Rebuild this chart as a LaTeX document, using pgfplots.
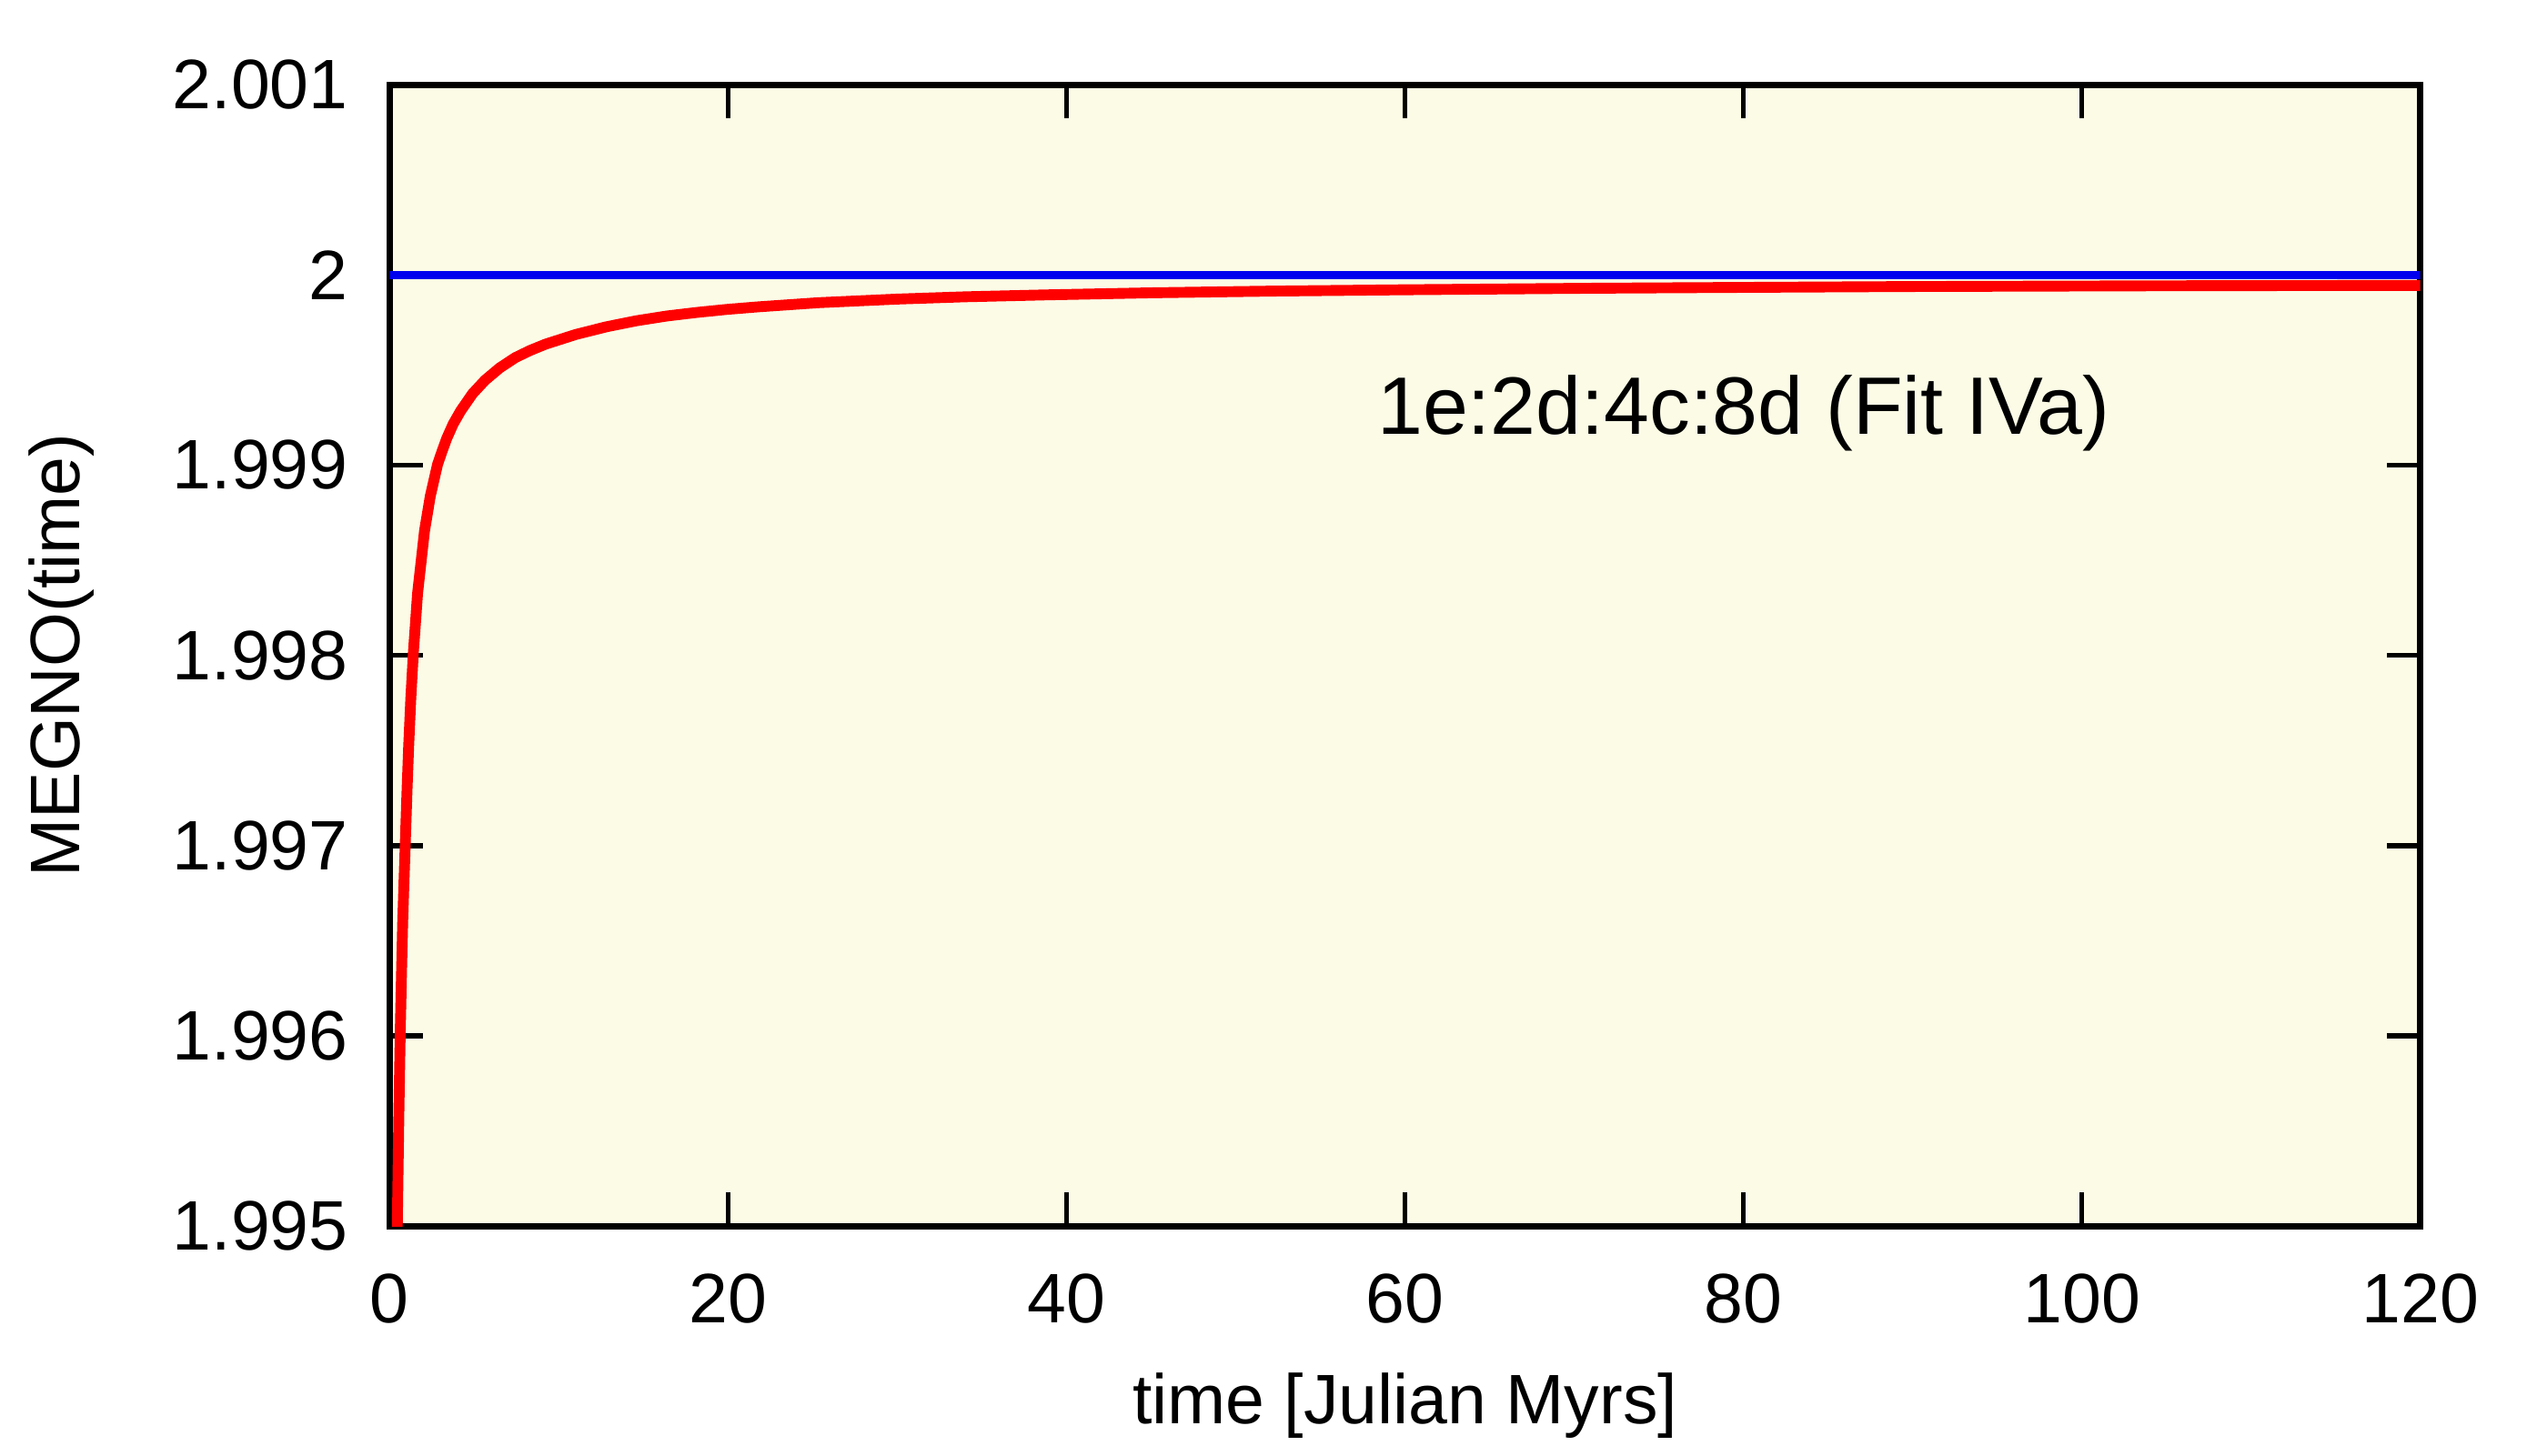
\documentclass[border=0pt]{standalone}
\usepackage{fontspec}
\setmainfont{Liberation Sans}
\usepackage{pgfplots}
\pgfplotsset{compat=1.18}
\definecolor{bgyellow}{RGB}{251,251,230}
\definecolor{megnored}{RGB}{255,0,0}
\definecolor{megnoblue}{RGB}{0,0,238}
\begin{document}
\begin{tikzpicture}
\path[use as bounding box] (-61.2pt,-36pt) rectangle (338.8pt,192.6pt);
\begin{axis}[
  scale only axis,
  width=318.9pt, height=179.3pt,
  xmin=0, xmax=120, ymin=1.995, ymax=2.001,
  xtick={0,20,...,120},
  ytick={1.995,1.996,1.997,1.998,1.999,2,2.001},
  yticklabels={1.995,1.996,1.997,1.998,1.999,2,2.001},
  tick align=inside,
  major tick length=5.3pt,
  tick style={line width=0.8pt, black},
  axis line style={line width=1pt},
  axis background/.style={fill=bgyellow},
  /pgf/number format/assume math mode=true,
  font=\fontsize{11}{13}\selectfont,
  yticklabel style={xshift=-3pt},
  xticklabel style={yshift=-4pt},
  xlabel={time [Julian Myrs]},
  ylabel={MEGNO(time)},
  xlabel style={at={(axis description cs:0.5,-0.157)}, anchor=center},
  ylabel style={at={(axis description cs:-0.1615,0.5)}, anchor=center},
]
\addplot[megnoblue, line width=1.25pt] coordinates {(0,2) (120,2)};
\addplot[megnored, line width=1.7pt, line cap=round, line join=round] coordinates {
(0.42,1.99480)
(0.45,1.99500)
(0.54,1.99557)
(0.62,1.99600)
(0.70,1.99633)
(0.77,1.99660)
(0.85,1.99682)
(0.93,1.997032)
(1.02,1.997275)
(1.12,1.997518)
(1.25,1.997776)
(1.40,1.998014)
(1.65,1.998327)
(2.06,1.998655)
(2.40,1.998837)
(2.83,1.999004)
(3.10,1.999074)
(3.37,1.99914)
(3.75,1.999216)
(4.20,1.999286)
(4.90,1.999376)
(5.63,1.999446)
(6.50,1.999511)
(7.42,1.999565)
(8.30,1.999603)
(9.21,1.999636)
(11.0,1.999687)
(12.79,1.999727)
(14.58,1.999759)
(16.37,1.999784)
(18.17,1.999803)
(19.96,1.999819)
(21.75,1.999832)
(23.54,1.999843)
(25.33,1.999854)
(30.0,1.999873)
(34.0,1.999885)
(38.75,1.999895)
(45.0,1.999906)
(52.2,1.999915)
(60.0,1.999922)
(71.0,1.99993)
(80.0,1.9999345)
(89.8,1.999939)
(105.0,1.999943)
(120.0,1.999945)
};
\node[anchor=west, inner sep=0pt, font=\fontsize{12.8}{15}\selectfont] at (axis cs:58.3,1.999272) {1e:2d:4c:8d (Fit IVa)};
\end{axis}
\end{tikzpicture}
\end{document}
